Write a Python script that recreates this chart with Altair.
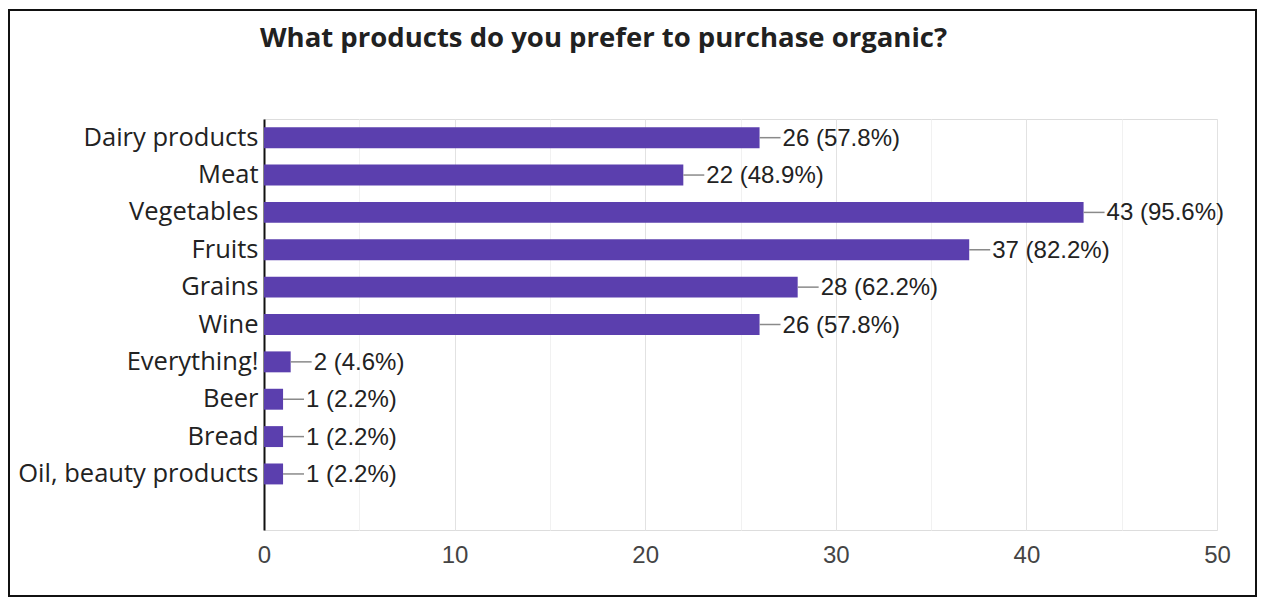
import altair as alt
import pandas as pd

title_text = "What products do you prefer to purchase organic?"
categories = ["Dairy products", "Meat", "Vegetables", "Fruits", "Grains", "Wine",
              "Everything!", "Beer", "Bread", "Oil, beauty products"]
counts = [26, 22, 43, 37, 28, 26, 2, 1, 1, 1]
percents = ["57.8%", "48.9%", "95.6%", "82.2%", "62.2%", "57.8%", "4.6%", "2.2%", "2.2%", "2.2%"]
bar_lengths = [26, 22, 43, 37, 28, 26, 1.4, 1, 1, 1]
x_ticks = [0, 5, 10, 15, 20, 25, 30, 35, 40, 45, 50]

df = pd.DataFrame({
    "category": categories,
    "count": counts,
    "bar": bar_lengths,
    "label": [f"{c} ({p})" for c, p in zip(counts, percents)],
})
df["lead_end"] = df["bar"] + 1.1

y_domain = categories + [""]

W, H = 953, 411

x_scale = alt.Scale(domain=[0, 50], nice=False)
y_enc = alt.Y("category:N", sort=None,
              scale=alt.Scale(domain=y_domain, paddingInner=0.44, paddingOuter=0.22),
              axis=alt.Axis(title=None, ticks=False, domain=True, domainColor="#111111",
                            domainWidth=2, labelFont="Open Sans", labelFontSize=25.5,
                            labelColor="#222222", labelPadding=6, grid=False,
                            labelLimit=400))

bars = alt.Chart(df).mark_bar(color="#5b3fae").encode(
    x=alt.X("bar:Q", scale=x_scale,
            axis=alt.Axis(title=None, values=x_ticks, domain=False, ticks=False,
                          labelFont="Liberation Sans", labelFontSize=24,
                          labelColor="#444444", labelPadding=13, labelFlush=False,
                          labelExpr="datum.value % 10 === 0 ? datum.label : ''",
                          gridColor={"condition": {"test": "datum.value % 10 === 0",
                                                   "value": "#e2e2e2"},
                                     "value": "#f1f1f1"},
                          gridWidth=1)),
    y=y_enc,
)

leaders = alt.Chart(df).mark_rule(color="#8a8a8a", strokeWidth=1.5).encode(
    x=alt.X("bar:Q", scale=x_scale),
    x2="lead_end:Q",
    y=alt.Y("category:N", sort=None, scale=alt.Scale(domain=y_domain)),
)

texts = alt.Chart(df).mark_text(align="left", baseline="middle", dx=23, dy=1,
                                font="Liberation Sans", fontSize=24,
                                color="#222222").encode(
    x=alt.X("bar:Q", scale=x_scale),
    y=alt.Y("category:N", sort=None, scale=alt.Scale(domain=y_domain)),
    text="label:N",
)

title_df = pd.DataFrame({"t": [title_text]})
title = alt.Chart(title_df).mark_text(align="left", baseline="alphabetic",
                                      font="Open Sans", fontSize=27.5, fontWeight="bold",
                                      color="#212121").encode(
    x=alt.value(-4), y=alt.value(-72), text="t:N"
)

frame_df = pd.DataFrame({"k": [0]})
frame = alt.Chart(frame_df).mark_rect(filled=False, stroke="#111111", strokeWidth=2).encode(
    x=alt.value(-255), x2=alt.value(992), y=alt.value(-109), y2=alt.value(477)
)

chart = alt.layer(bars, leaders, texts, title, frame).properties(
    width=W, height=H,
    autosize=alt.AutoSizeParams(type="none"),
    padding={"left": 256, "top": 111, "right": 40, "bottom": 68},
).configure_view(stroke="#ececec", strokeWidth=1).configure(background="white")

chart.save("out.html", embed_options={"renderer": "svg", "actions": False})
